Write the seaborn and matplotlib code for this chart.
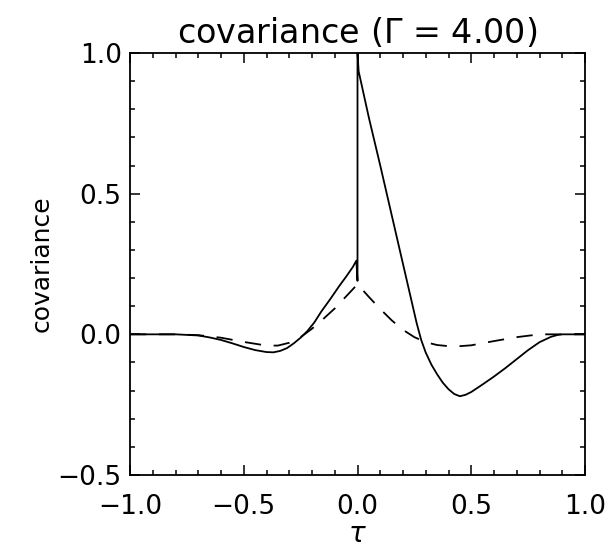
import numpy as np
import pandas as pd
import matplotlib
matplotlib.use("Agg")
import matplotlib.pyplot as plt
import seaborn as sns
from matplotlib.ticker import MultipleLocator

# ---- data ----
tau_solid = [-1.0, -0.9, -0.8, -0.7, -0.65, -0.6, -0.55, -0.5, -0.45, -0.4, -0.37,
             -0.34, -0.31, -0.28, -0.25, -0.22, -0.19, -0.16, -0.12, -0.08, -0.05,
             -0.02, -0.005, 0.0, 0.0,
             0.005, 0.05, 0.1, 0.15, 0.2, 0.24, 0.26, 0.28, 0.3, 0.325, 0.35, 0.375,
             0.4, 0.425, 0.45, 0.475, 0.5, 0.55, 0.6, 0.65, 0.7, 0.75, 0.8, 0.85,
             0.88, 0.9, 1.0]
cov_solid = [0.0, 0.0, 0.0, -0.004, -0.011, -0.02, -0.032, -0.045, -0.056, -0.063, -0.064,
             -0.059, -0.049, -0.032, -0.012, 0.012, 0.042, 0.08, 0.125, 0.172, 0.205,
             0.24, 0.262, 0.19, 1.0,
             0.935, 0.77, 0.6, 0.425, 0.25, 0.11, 0.04, -0.02, -0.065, -0.108, -0.142, -0.172,
             -0.195, -0.212, -0.22, -0.215, -0.205, -0.178, -0.15, -0.12, -0.088, -0.056, -0.028,
             -0.009, -0.002, 0.0, 0.0]

tau_dashed = [-1.0, -0.9, -0.8, -0.7, -0.6, -0.5, -0.4, -0.35, -0.3, -0.25, -0.2,
              -0.15, -0.1, -0.05, 0.0, 0.05, 0.1, 0.15, 0.2, 0.25, 0.3, 0.35,
              0.4, 0.45, 0.5, 0.6, 0.7, 0.8, 0.9, 1.0]
cov_dashed = [0.0, 0.0, 0.0, -0.003, -0.012, -0.027, -0.04, -0.04, -0.03, -0.01, 0.02,
              0.055, 0.092, 0.135, 0.178, 0.133, 0.09, 0.05, 0.016, -0.01, -0.028, -0.038,
              -0.042, -0.042, -0.039, -0.024, -0.01, 0.0, 0.0, 0.0]

title_text = "covariance ($\\Gamma$ = 4.00)"
x_label = "$\\tau$"
y_label = "covariance"
x_ticks = [-1.0, -0.5, 0.0, 0.5, 1.0]
y_ticks = [-0.5, 0.0, 0.5, 1.0]

sns.set_theme(style="ticks")
plt.rcParams['font.family'] = ['DejaVu Sans']
plt.rcParams['mathtext.fontset'] = 'dejavusans'
plt.rcParams['text.color'] = 'black'
plt.rcParams['axes.labelcolor'] = 'black'
plt.rcParams['xtick.color'] = 'black'
plt.rcParams['ytick.color'] = 'black'

fig = plt.figure(figsize=(6.08, 5.5), dpi=100)
ax = fig.add_axes([130/608, 1-475/550, (585-130)/608, (475-53)/550])

df_s = pd.DataFrame({"tau": tau_solid, "cov": cov_solid})
df_d = pd.DataFrame({"tau": tau_dashed, "cov": cov_dashed})
sns.lineplot(data=df_s, x="tau", y="cov", ax=ax, color="black", lw=1.3,
             estimator=None, sort=False)
sns.lineplot(data=df_d, x="tau", y="cov", ax=ax, color="black", lw=1.3,
             estimator=None, sort=False, linestyle=(0, (9, 7)))

ax.set_xlim(-1.0, 1.0)
ax.set_ylim(-0.5, 1.0)
ax.set_xticks(x_ticks)
ax.set_yticks(y_ticks)
ax.set_xticklabels(["\u22121.0", "\u22120.5", "0.0", "0.5", "1.0"])
ax.set_yticklabels(["\u22120.5", "0.0", "0.5", "1.0"])
ax.xaxis.set_minor_locator(MultipleLocator(0.1))
ax.yaxis.set_minor_locator(MultipleLocator(0.1))
ax.tick_params(which="both", direction="in", top=True, right=True, color="black",
               labelcolor="black", width=1.1)
ax.tick_params(which="major", length=7)
ax.tick_params(which="minor", length=3.5)
ax.tick_params(axis="x", which="major", labelsize=19, pad=14)
ax.tick_params(axis="y", which="major", labelsize=19, pad=6)
for s in ax.spines.values():
    s.set_linewidth(1.3)
    s.set_color("black")

ax.set_xlabel(x_label, fontsize=20, labelpad=0, color="black")
ax.set_ylabel(y_label, fontsize=18, labelpad=3, color="black")
ax.set_title(title_text, fontsize=24, pad=7, color="black")

fig.savefig("out.png", dpi=100, facecolor="white")
